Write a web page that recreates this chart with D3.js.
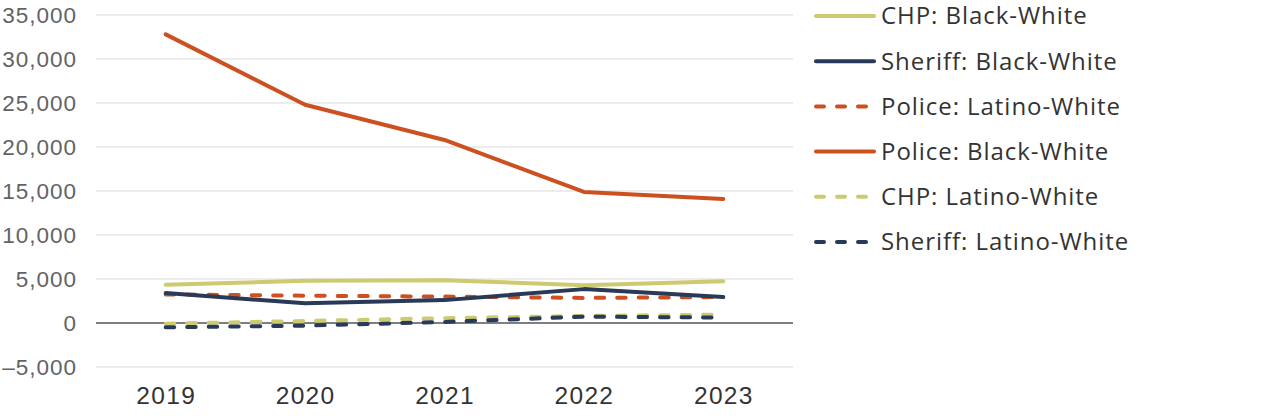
<!DOCTYPE html>
<html>
<head>
<meta charset="utf-8">
<script src="https://cdn.jsdelivr.net/npm/d3@7"></script>
<style>
  body { margin: 0; background: #fff; }
  svg { font-family: "Open Sans", Lato, sans-serif; }
</style>
</head>
<body>
<div id="chart"></div>
<script>
// data
const years = ['2019', '2020', '2021', '2022', '2023'];
const chpBlackWhite = [4350, 4800, 4850, 4300, 4750];
const sheriffBlackWhite = [3400, 2250, 2600, 3850, 2950];
const policeLatinoWhite = [3250, 3100, 3000, 2850, 2950];
const policeBlackWhite = [32800, 24800, 20800, 14900, 14100];
const chpLatinoWhite = [-80, 230, 550, 800, 950];
const sheriffLatinoWhite = [-480, -300, 120, 720, 620];
const yTicks = [-5000, 0, 5000, 10000, 15000, 20000, 25000, 30000, 35000];

const series = [
    {name: 'CHP: Black-White', values: chpBlackWhite, color: '#cccb70', dashed: false},
    {name: 'Sheriff: Black-White', values: sheriffBlackWhite, color: '#283a57', dashed: false},
    {name: 'Police: Latino-White', values: policeLatinoWhite, color: '#cd5020', dashed: true},
    {name: 'Police: Black-White', values: policeBlackWhite, color: '#cd5020', dashed: false},
    {name: 'CHP: Latino-White', values: chpLatinoWhite, color: '#cccb70', dashed: true},
    {name: 'Sheriff: Latino-White', values: sheriffLatinoWhite, color: '#283a57', dashed: true},
];
// draw order: dashed under, police BW last
const drawOrder = [4, 5, 0, 2, 1, 3];

const width = 1280, height = 420;
const margin = {left: 96, right: 487, top: 15, bottom: 53};
const innerW = width - margin.left - margin.right;
const innerH = height - margin.top - margin.bottom;

const svg = d3.select('#chart')
    .append('svg')
    .attr('width', width)
    .attr('height', height);
const g = svg.append('g')
    .attr('transform', `translate(${margin.left}, ${margin.top})`);

const xScale = d3.scalePoint()
    .domain(years)
    .range([0, innerW])
    .padding(0.5);
const yScale = d3.scaleLinear()
    .domain([-5000, 35000])
    .range([innerH, 0]);

// gridlines
g.append('g')
    .selectAll('line')
    .data(yTicks.filter(d => d !== 0))
    .join('line')
    .attr('x1', 0)
    .attr('x2', innerW)
    .attr('y1', d => yScale(d))
    .attr('y2', d => yScale(d))
    .attr('stroke', '#d9d9d9')
    .attr('stroke-width', 1);

// y axis labels
const fmt = d3.format(',');
const yAxis = d3.axisLeft(yScale)
    .tickValues(yTicks)
    .tickSize(0)
    .tickPadding(19)
    .tickFormat(d => fmt(d).replace('−', '–').replace('-', '–'));
const yAxisG = g.append('g').call(yAxis);
yAxisG.select('.domain').remove();
yAxisG.selectAll('text')
    .attr('fill', '#636363')
    .attr('font-size', 22.5)
    .attr('letter-spacing', 1);

// x axis labels
const xAxis = d3.axisBottom(xScale).tickSize(0).tickPadding(20);
const xAxisG = g.append('g')
    .attr('transform', `translate(0, ${innerH})`)
    .call(xAxis);
xAxisG.select('.domain').remove();
xAxisG.selectAll('text')
    .attr('fill', '#333')
    .attr('font-size', 24.5)
    .attr('letter-spacing', 1.3);

// zero line
g.append('line')
    .attr('x1', 0)
    .attr('x2', innerW)
    .attr('y1', yScale(0))
    .attr('y2', yScale(0))
    .attr('stroke', '#555')
    .attr('stroke-width', 1.5);

// lines
const line = d3.line()
    .x((d, i) => xScale(years[i]))
    .y(d => yScale(d));

drawOrder.forEach(i => {
    const s = series[i];
    g.append('path')
        .datum(s.values)
        .attr('d', line)
        .attr('fill', 'none')
        .attr('stroke', s.color)
        .attr('stroke-width', 4)
        .attr('stroke-linecap', 'round')
        .attr('stroke-linejoin', 'round')
        .attr('stroke-dasharray', s.dashed ? '8.5,13' : null);
});

// legend
const legend = svg.append('g')
    .attr('transform', 'translate(816, 16)');
const row = legend.selectAll('g')
    .data(series)
    .join('g')
    .attr('transform', (d, i) => `translate(0, ${i * 45.2})`);
row.append('line')
    .attr('x1', 0)
    .attr('x2', d => d.dashed ? 54 : 58)
    .attr('y1', 0)
    .attr('y2', 0)
    .attr('stroke', d => d.color)
    .attr('stroke-width', 4)
    .attr('stroke-linecap', 'round')
    .attr('stroke-dasharray', d => d.dashed ? '8,13' : null);
row.append('text')
    .attr('x', 65)
    .attr('y', 0)
    .attr('dy', '0.35em')
    .attr('fill', '#333')
    .attr('font-size', 24)
    .attr('letter-spacing', 0.95)
    .text(d => d.name);
</script>
</body>
</html>
